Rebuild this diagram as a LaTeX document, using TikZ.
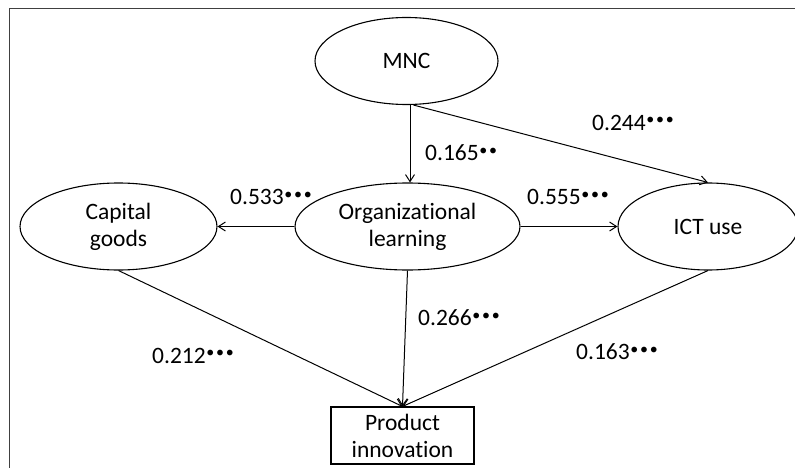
\documentclass[tikz,border=0pt]{standalone}
\usepackage{fontspec}
\setmainfont{Carlito}[Ligatures=NoCommon]
\usetikzlibrary{shapes.geometric,arrows.meta}

% significance marks set as small raised bullets after a coefficient
\newcommand\sigmarks[1]{\raisebox{5.5pt}{\fontsize{16}{16}\selectfont\kern0.5pt #1}}
\newcommand\dotsep{\kern1.8pt}

\tikzset{
  every node/.style={font=\fontsize{23.5}{27}\selectfont, text=black},
  latent/.style={ellipse, draw, line width=1.1pt, inner sep=0pt, align=center},
  observed/.style={rectangle, draw, line width=1.1pt, inner sep=0pt, align=center},
  path/.style={draw, line width=1pt, -{Straight Barb[length=7pt,width=9pt,line width=1pt]}},
  coef/.style={anchor=base west, inner sep=0pt},
  frame/.style={draw=black!75, line width=1pt}
}

\begin{document}
\begin{tikzpicture}[x=1pt,y=-1pt]
\useasboundingbox (0,0) rectangle (795,468);

% outer frame (left and top edges)
\coordinate (fl) at (9.5,468);
\coordinate (fc) at (9.5,9);
\coordinate (fr) at (795,9);
\draw[frame] (fl) -- (fc) -- (fr);

% constructs
\node[latent, minimum width=183pt, minimum height=87pt] (mnc) at (406.5,61) {MNC};
\node[latent, minimum width=225pt, minimum height=87pt] (ol) at (407.5,226.5) {Organizational\\learning};
\node[latent, minimum width=197pt, minimum height=87pt] (cap) at (118.5,226.5) {Capital\\goods};
\node[latent, minimum width=180pt, minimum height=87pt] (ict) at (708,226.5) {ICT use};
\node[observed, minimum width=143pt, minimum height=57pt] (pi) at (402.5,435.5) {Product\\innovation};

% structural paths
\draw[path] ([xshift=3.5pt]mnc.south) -- ([xshift=2.5pt]ol.north);
\draw[path] ([xshift=7pt]mnc.south) -- (ict.north);
\draw[path] (ol.west) -- (cap.east);
\draw[path] (ol.east) -- (ict.west);
\draw[path] (cap.south) -- (pi.north);
\draw[path] (ol.south) -- (pi.north);
\draw[path] (ict.south) -- (pi.north);

% path coefficients
\node[coef] (c1) at (425,160.5) {0.165\sigmarks{•\dotsep•}};
\node[coef] (c2) at (592,130.5) {0.244\sigmarks{•\dotsep•\dotsep•}};
\node[coef] (c3) at (230,204.5) {0.533\sigmarks{•\dotsep•\dotsep•}};
\node[coef] (c4) at (527,204.5) {0.555\sigmarks{•\dotsep•\dotsep•}};
\node[coef] (c5) at (152,363) {0.212\sigmarks{•\dotsep•\dotsep•}};
\node[coef] (c6) at (418,325.5) {0.266\sigmarks{•\dotsep•\dotsep•}};
\node[coef] (c7) at (576,359.5) {0.163\sigmarks{•\dotsep•\dotsep•}};
\end{tikzpicture}
\end{document}
